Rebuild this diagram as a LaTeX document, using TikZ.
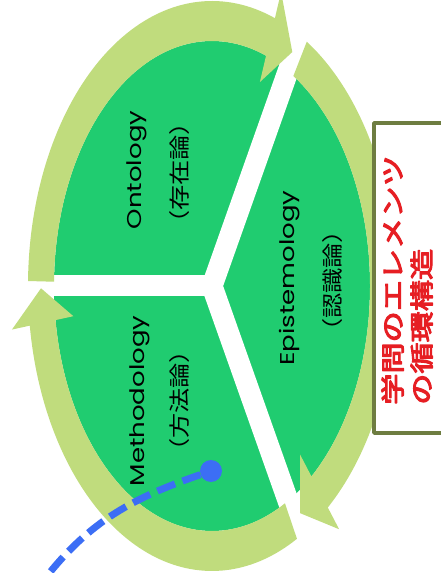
\documentclass[tikz,border=0pt]{standalone}
\usepackage{fontspec}
\usepackage{graphicx}
\usepackage{tikz}
\newfontfamily\latinfont{Poppins}
\newfontfamily\jpfont{Noto Sans CJK JP}
\newfontfamily\jpheavy[FakeBold=4]{Noto Sans CJK JP}
\definecolor{leaf}{RGB}{32,204,112}
\definecolor{ringgreen}{RGB}{192,220,125}
\definecolor{pinblue}{RGB}{60,110,245}
\definecolor{boxolive}{RGB}{110,125,65}
\definecolor{titlered}{RGB}{230,30,35}
\tikzset{
  every picture/.style={line join=round},
  band/.style={white, line width=21pt, line cap=round},
  ringseg/.style={fill=ringgreen},
  enlbl/.style={rotate=90, inner sep=0pt, font=\latinfont\fontsize{20}{24}\selectfont},
  jplbl/.style={rotate=90, inner sep=0pt, font=\jpfont\fontsize{21}{25}\selectfont},
  titlebox/.style={draw=boxolive, line width=3.5pt, fill=white},
  pin/.style={circle, fill=pinblue, minimum size=22pt, inner sep=0pt},
  trail/.style={pinblue, line width=7pt, dash pattern=on 19pt off 8pt},
}

\begin{document}
\begin{tikzpicture}[x=1pt,y=1pt]
\clip (0,0) rectangle (441,573);
\begin{scope}[shift={(212,287)}]
\fill[leaf] (0,0) ellipse[x radius=158, y radius=245];
% the three gaps
\draw[band] (0,0) -- (180:260);
\draw[band] (0,0) -- (70.5:320);
\draw[band] (0,0) -- (-70.5:320);
% ring: start / back of head / tip
\foreach \s/\b/\e in {179/70/62, 59/-51/-59, 297.5/188/180.5}
  \fill[ringseg] (\s:184 and 285) arc[start angle=\s, end angle=\b, x radius=184, y radius=285]
    -- (\b:202 and 313) -- (\e:171 and 265) -- (\b:140 and 217) -- (\b:158 and 245)
    arc[start angle=\b, end angle=\s, x radius=158, y radius=245] -- cycle;
\end{scope}

\node[enlbl] (onto) at (137,403) {\scalebox{1.3}[1]{Ontology}};
\node[jplbl] (ontoJ) at (180,400) {\scalebox{1.2}[1]{（存在論）}};
\node[enlbl] (epis) at (290,295) {\scalebox{1.3}[1]{Epistemology}};
\node[jplbl] (episJ) at (333,292) {\scalebox{1.2}[1]{（認識論）}};
\node[enlbl] (meth) at (140,172) {\scalebox{1.3}[1]{Methodology}};
\node[jplbl] (methJ) at (180,172) {\scalebox{1.2}[1]{（方法論）}};

\draw[titlebox] (374,140) rectangle (480,450);
\node[rotate=90, align=left, inner sep=0pt, text=titlered,
  font=\jpheavy\fontsize{24}{29}\selectfont] (title) at (407,293)
  {\scalebox{1.3}[1]{学問のエレメンツ}\\\scalebox{1.3}[1]{の循環構造}};

\node[pin] (pin) at (211,102) {};
\coordinate (tail) at (40,-12);
\draw[trail] (pin) to[out=199, in=53] (tail);
\end{tikzpicture}
\end{document}
